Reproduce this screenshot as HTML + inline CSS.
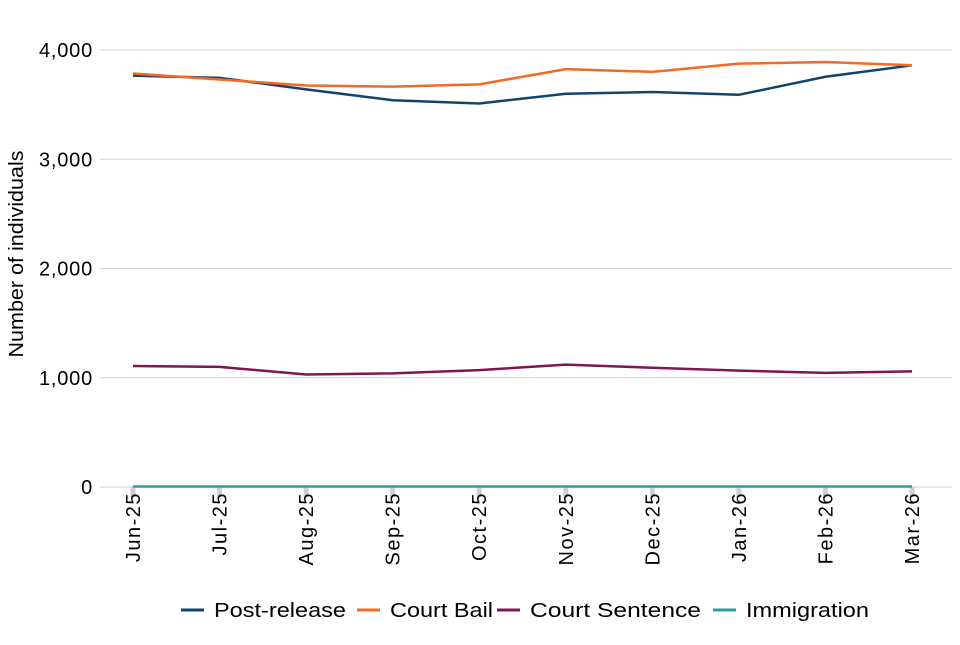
<!DOCTYPE html>
<html><head><meta charset="utf-8"><style>
body{margin:0;background:#fff;font-family:"Liberation Sans",sans-serif;}
svg text{font-family:"Liberation Sans",sans-serif;fill:#000;}
</style></head><body>
<svg id="chart" width="960" height="640"></svg>
<script>
const categories=["Jun-25","Jul-25","Aug-25","Sep-25","Oct-25","Nov-25","Dec-25","Jan-26","Feb-26","Mar-26"];
const postRelease=[3765,3745,3640,3540,3510,3600,3615,3590,3755,3860];
const courtBail=[3785,3730,3675,3665,3685,3825,3800,3875,3890,3860];
const courtSentence=[1107,1100,1030,1040,1070,1120,1092,1065,1045,1058];
const immigration=[5,5,5,5,5,5,5,5,5,5];
const yTicks=[0,1000,2000,3000,4000];
const yTickLabels=["0","1,000","2,000","3,000","4,000"];
const seriesNames=["Post-release","Court Bail","Court Sentence","Immigration"];
const seriesColors=["#12436d","#f46a25","#801650","#28a197"];

const NS="http://www.w3.org/2000/svg";
const svg=document.getElementById('chart');
const x0=133,x1=912,yBase=487,yTop=50,yMax=4000;
const xs=i=>x0+(x1-x0)*i/(categories.length-1);
const ys=v=>yBase-(yBase-yTop)*v/yMax;
function mk(t,a,p){const e=document.createElementNS(NS,t);for(const k in a)e.setAttribute(k,a[k]);(p||svg).appendChild(e);return e;}

yTicks.forEach((v,i)=>{
  const g=mk('line',{x1:100,x2:952,y1:ys(v),y2:ys(v),stroke:'#cfcfcf','stroke-width':1});
  
  
  const t=mk('text',{x:93,y:ys(v)+7,'text-anchor':'end','font-size':20,'letter-spacing':0.8});
  t.textContent=yTickLabels[i];
  
  
});
const yt=mk('text',{x:0,y:0,'font-size':20,'text-anchor':'middle',textLength:207,lengthAdjust:'spacingAndGlyphs',transform:'translate(23,254) rotate(-90)'});
yt.textContent='Number of individuals';



categories.forEach((c,i)=>{
  const tk=mk('line',{x1:xs(i),x2:xs(i),y1:yBase,y2:yBase+10,stroke:'#cfcfcf','stroke-width':5});
  
  
  const t=mk('text',{x:0,y:0,'font-size':20,'letter-spacing':1.5,'text-anchor':'end',transform:`translate(${xs(i)+7},${yBase+5}) rotate(-90)`});
  t.textContent=c;
  
  
});

[postRelease,courtBail,courtSentence,immigration].forEach((s,k)=>{
  const p=mk('polyline',{points:s.map((v,i)=>xs(i)+','+ys(v)).join(' '),fill:'none',stroke:seriesColors[k],'stroke-width':2.5});
  
  
});

const lx=[181,357,497,713];
const tl=[132,103,171,123];
seriesNames.forEach((n,k)=>{
  const l=mk('line',{x1:lx[k],x2:lx[k]+23,y1:610,y2:610,stroke:seriesColors[k],'stroke-width':3});
  
  
  const t=mk('text',{x:lx[k]+33,y:617,'font-size':20,textLength:tl[k],lengthAdjust:'spacingAndGlyphs'});
  t.textContent=n;
  
  
});
</script>
</body></html>
